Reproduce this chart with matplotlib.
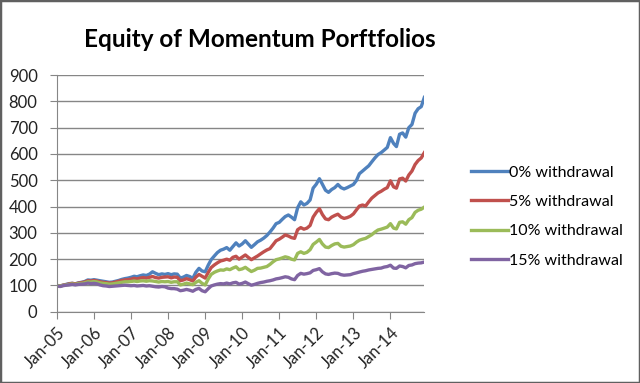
import pandas as pd
import matplotlib
matplotlib.use("Agg")
import matplotlib.pyplot as plt
import matplotlib.dates as mdates
from matplotlib.patches import Rectangle

plt.rcParams['font.family'] = ['Lato', 'DejaVu Sans']

months = pd.date_range('2005-01-01', periods=120, freq='MS')

w0 = [100, 98, 101, 104, 107, 108, 106, 110, 112, 115, 121, 120,
      122, 120, 118, 116, 114, 112, 113, 116, 119, 123, 126, 128,
      131, 135, 133, 137, 140, 138, 143, 152, 146, 141, 144, 142,
      145, 141, 144, 143, 128, 132, 138, 134, 127, 150, 165, 155,
      152, 178, 198, 212, 225, 234, 238, 244, 234, 248, 262, 250,
      258, 270, 258, 245, 255, 266, 272, 280, 290, 303, 318, 335,
      340, 352, 362, 368, 360, 350, 395, 418, 406, 412, 425, 470,
      485, 506, 485, 462, 454, 465, 472, 484, 472, 467, 472, 478,
      484, 500, 525, 535, 545, 555, 570, 585, 598, 605, 615, 625,
      662, 640, 628, 675, 680, 664, 700, 712, 755, 772, 780, 815]

w5 = [100, 98, 101, 103, 106, 108, 106, 109, 111, 113, 118, 117,
      119, 117, 114, 112, 111, 109, 110, 113, 116, 119, 121, 122,
      124, 127, 125, 128, 130, 128, 131, 134, 130, 128, 131, 132,
      133, 129, 132, 131, 118, 121, 126, 122, 117, 132, 142, 135,
      128, 150, 168, 178, 186, 193, 196, 200, 196, 207, 211, 200,
      208, 216, 207, 198, 205, 212, 220, 228, 235, 240, 255, 270,
      276, 284, 292, 288, 282, 279, 312, 320, 314, 318, 328, 360,
      378, 392, 370, 353, 350, 360, 366, 371, 360, 355, 358, 363,
      372, 388, 402, 406, 402, 418, 432, 442, 452, 458, 466, 472,
      498, 475, 470, 505, 508, 497, 520, 535, 560, 575, 585, 605]

w10 = [100, 98, 100, 102, 104, 106, 104, 107, 108, 110, 114, 113,
       115, 113, 110, 108, 107, 105, 106, 108, 110, 112, 114, 114,
       115, 117, 115, 117, 118, 116, 118, 117, 115, 113, 115, 114,
       115, 112, 114, 114, 102, 105, 109, 106, 103, 112, 118, 108,
       102, 125, 142, 150, 155, 159, 158, 163, 160, 166, 171, 160,
       163, 169, 161, 153, 158, 165, 166, 169, 172, 180, 190, 198,
       201, 205, 209, 206, 200, 197, 222, 228, 222, 226, 236, 256,
       265, 275, 258, 246, 244, 252, 258, 260, 249, 246, 248, 250,
       255, 265, 272, 276, 279, 286, 293, 303, 311, 314, 318, 322,
       335, 318, 315, 340, 342, 333, 350, 358, 378, 386, 390, 398]

w15 = [98, 96, 99, 101, 102, 104, 102, 104, 105, 106, 109, 107,
       108, 106, 102, 99, 98, 96, 97, 98, 99, 100, 101, 100,
       99, 100, 98, 99, 100, 98, 99, 97, 95, 94, 96, 95,
       90, 88, 88, 86, 80, 82, 85, 82, 78, 85, 89, 80,
       76, 88, 98, 102, 105, 107, 106, 109, 106, 110, 112, 105,
       108, 113, 107, 101, 104, 108, 111, 113, 116, 118, 121, 125,
       127, 130, 133, 131, 125, 122, 138, 146, 143, 145, 148, 157,
       160, 164, 152, 144, 142, 145, 147, 146, 141, 139, 140, 141,
       145, 148, 151, 154, 156, 159, 161, 163, 165, 166, 170, 172,
       177, 166, 165, 174, 172, 167, 176, 178, 183, 185, 186, 189]

labels = ['0% withdrawal', '5% withdrawal', '10% withdrawal', '15% withdrawal']
colors = ['#4F81BD', '#C0504D', '#9BBB59', '#8064A2']

fig = plt.figure(figsize=(6.4, 3.83), dpi=100)
ax = fig.add_axes([0.089, 0.186, 0.574, 0.618])

for vals, lab, col in zip([w0, w5, w10, w15], labels, colors):
    ax.plot(months, vals, color=col, lw=2.4, label=lab, solid_joinstyle='round')

ax.set_ylim(0, 900)
ax.set_yticks(range(0, 901, 100))
ax.set_xlim(months[0], months[-1])
ax.set_xticks(pd.date_range('2005-01-01', '2014-01-01', freq='YS'))
ax.xaxis.set_major_formatter(mdates.DateFormatter('%b-%y'))

ax.grid(axis='y', color='#868686', lw=1)
ax.set_axisbelow(True)
for s in ['top', 'right']:
    ax.spines[s].set_visible(False)
for s in ['left', 'bottom']:
    ax.spines[s].set_color('#868686')
ax.tick_params(axis='both', direction='out', color='#868686', length=5,
               labelsize=12, labelcolor='#222222')
ax.tick_params(axis='y', pad=9)
ax.tick_params(axis='x', pad=4)
plt.setp(ax.get_xticklabels(), rotation=45, ha='right', rotation_mode='anchor')

fig.text(0.406, 0.898, 'Equity of Momentum Porftfolios', ha='center', va='center',
         fontsize=17.5, fontweight='bold')

ax.legend(loc='upper left', bbox_to_anchor=(1.11, 0.645), frameon=False,
          fontsize=11.5, handlelength=2.3, handletextpad=0.1, labelspacing=0.95,
          borderaxespad=0)

fig.patches.append(Rectangle((0, 0), 1, 1, transform=fig.transFigure, fill=False,
                             edgecolor='#606060', lw=2.5))

fig.savefig('out.png', dpi=100)
